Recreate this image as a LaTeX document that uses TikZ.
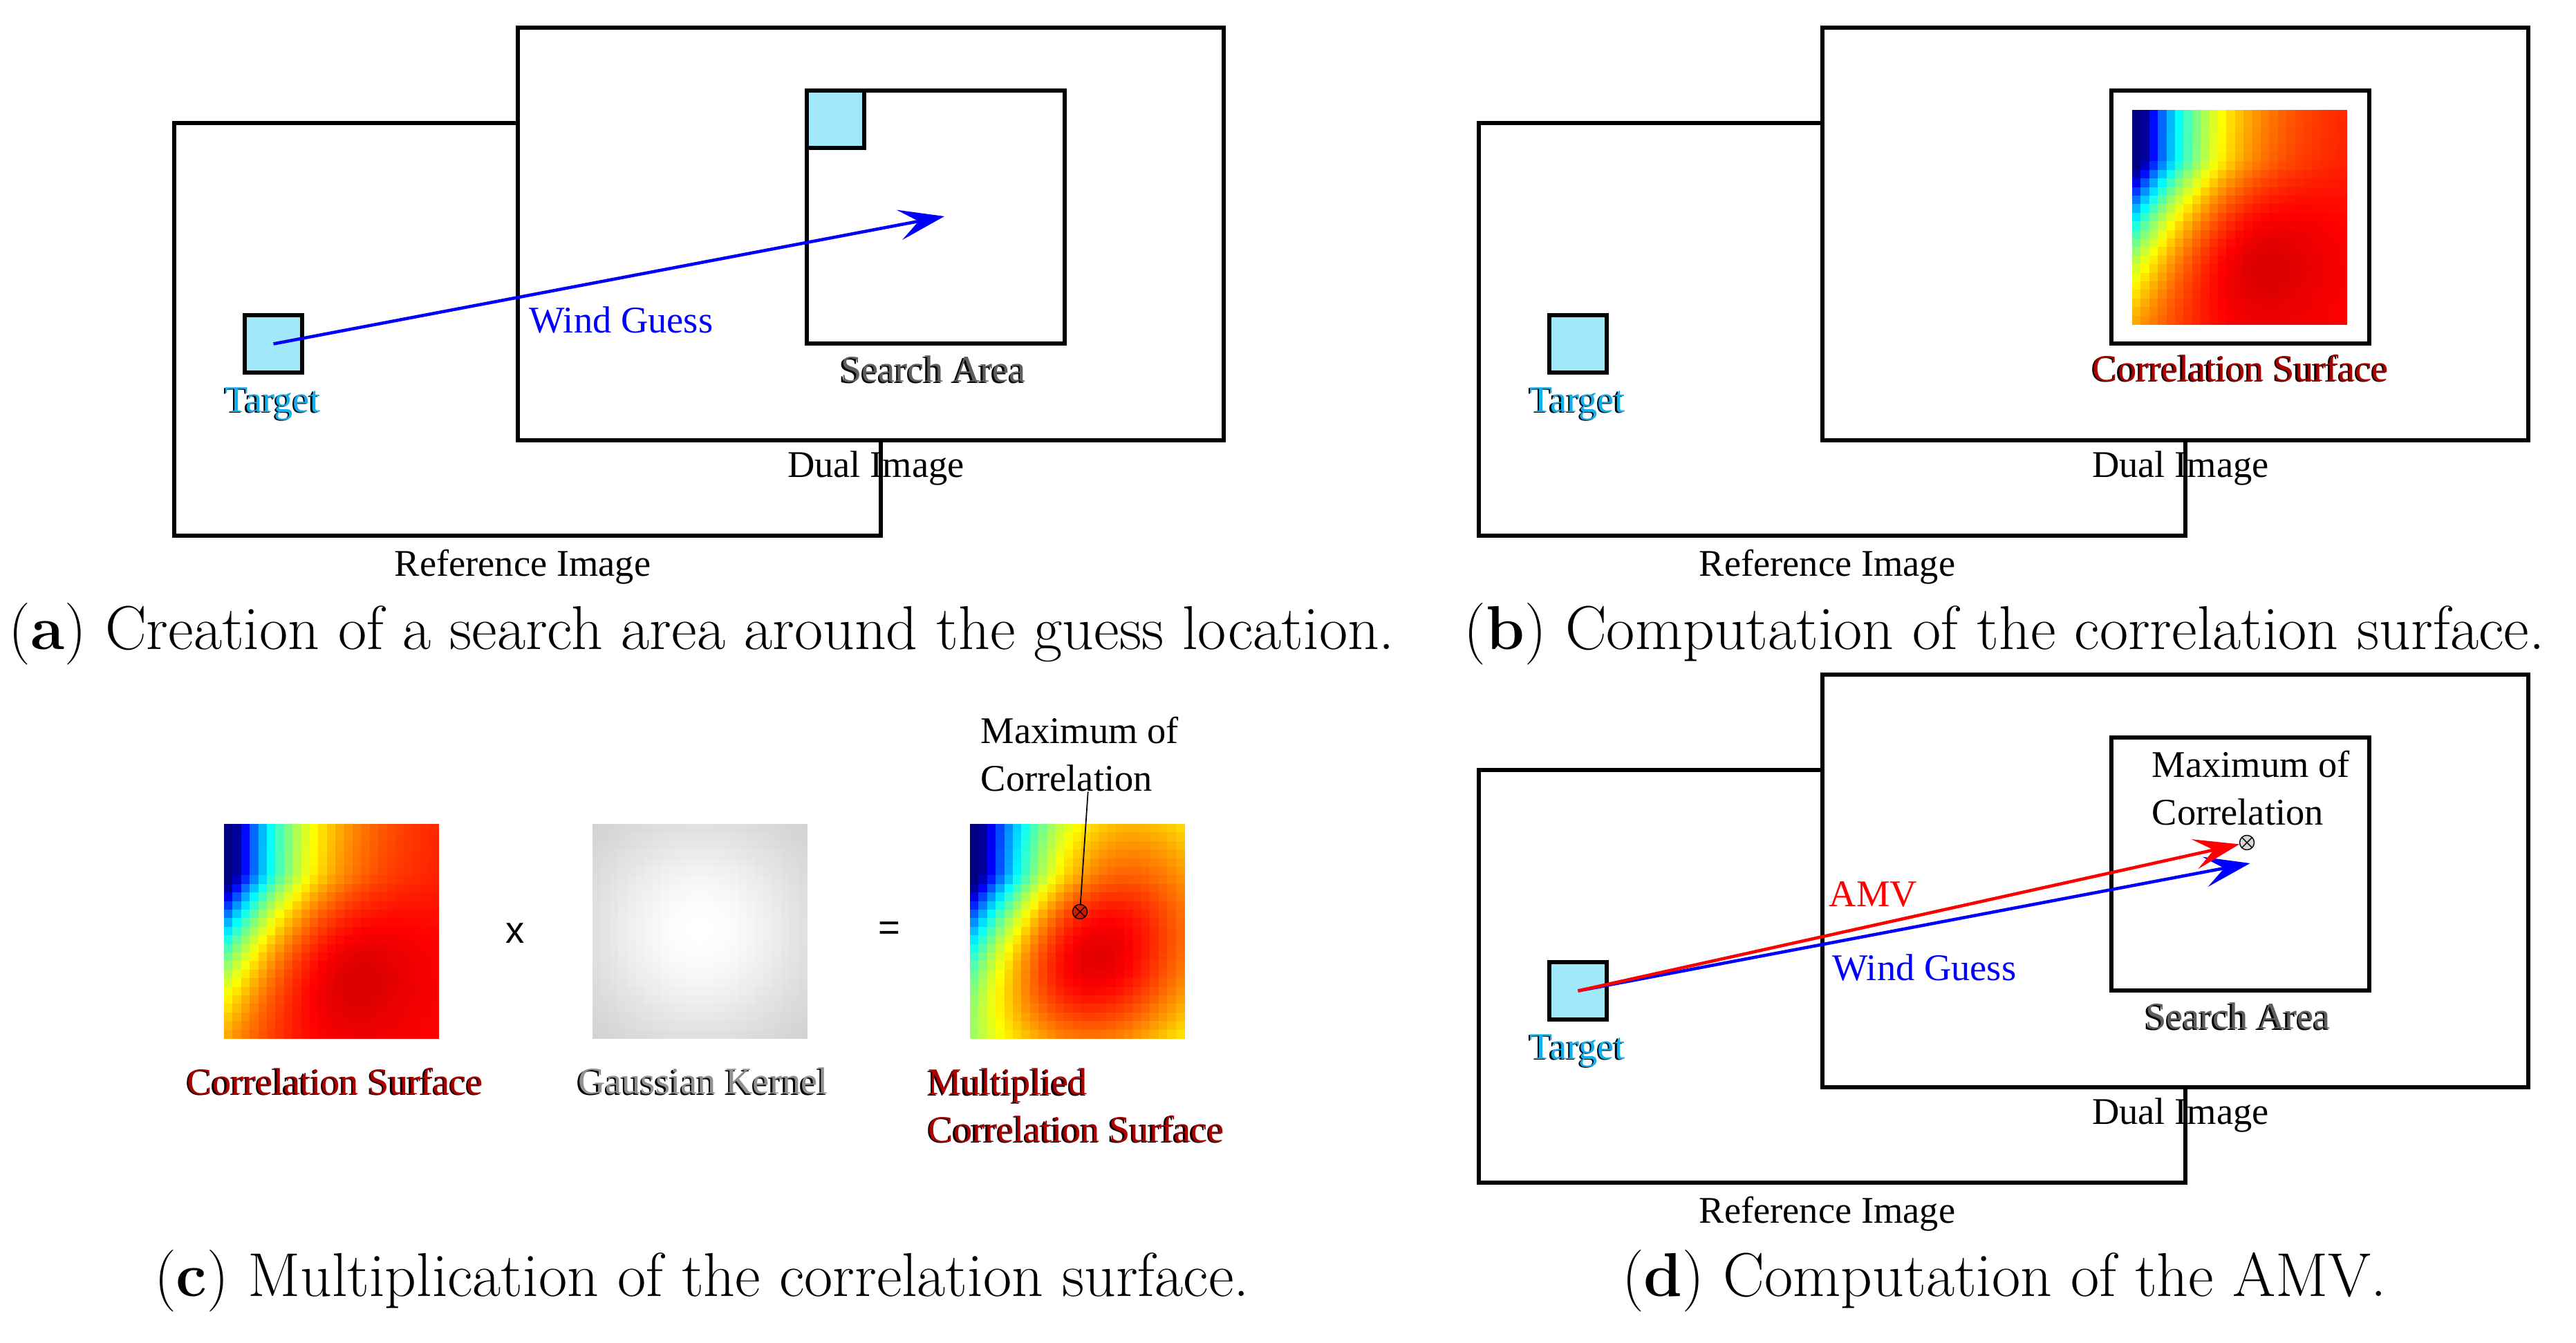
\documentclass[tikz,border=0pt]{standalone}
\usepackage{fontspec}
\newfontfamily\lblfont{Liberation Serif}
\newfontfamily\opfont{Liberation Sans}
\usetikzlibrary{arrows.meta}

\definecolor{tgtfill}{RGB}{160,232,250}
\definecolor{tgttext}{RGB}{20,175,240}
\definecolor{srchgray}{RGB}{95,95,95}
\definecolor{corrred}{RGB}{175,0,0}
\definecolor{gaussgray}{RGB}{145,145,145}

% coloured text with a dark shadow
\newcommand\shd[2]{\rlap{\kern-0.7pt\raisebox{-0.5pt}{\color{black}#2}}{\color{#1}#2}}

% jet colour map, value #1 in [0,1] -> hmcol
\newcommand\jetcol[1]{%
  \pgfmathsetmacro\jr{max(0,min(1,min(4*#1-1.5,4.5-4*#1)))}%
  \pgfmathsetmacro\jg{max(0,min(1,min(4*#1-0.5,3.5-4*#1)))}%
  \pgfmathsetmacro\jb{max(0,min(1,min(4*#1+0.5,2.5-4*#1)))}%
  \definecolor{hmcol}{rgb}{\jr,\jg,\jb}}

% correlation value at (\hx,\hy), y going down -> \hmv
\newcommand\corrval{%
  \pgfmathsetmacro\hmu{\hx+0.7*max(0,\hy-0.24)}%
  \pgfmathsetmacro\hmb{0.95*(1-exp(0-max(0,\hmu-0.05)/0.3))}%
  \pgfmathsetmacro\hmg{exp(0-((\hx-0.5)*(\hx-0.5)+(\hy-0.65)*(\hy-0.65))/0.15)}%
  \pgfmathsetmacro\hmv{min(1,\hmb*(0.92+0.1*\hmg))}}

% 25x25 map, top left corner (#1,#2); #3: 0 correlation, 1 gaussian, 2 product
\newcommand\heatgrid[3]{%
  \foreach \i in {0,...,24}{%
    \foreach \j in {0,...,24}{%
      \pgfmathsetmacro\hx{(\i+0.5)/25}%
      \pgfmathsetmacro\hy{(\j+0.5)/25}%
      \ifcase#3\relax
        \corrval\jetcol{\hmv}%
      \or
        \pgfmathsetmacro\hmk{exp(0-((\hx-0.5)*(\hx-0.5)+(\hy-0.5)*(\hy-0.5))/0.3)}%
        \pgfmathsetmacro\hml{0.78+0.22*\hmk}%
        \definecolor{hmcol}{gray}{\hml}%
      \or
        \corrval
        \pgfmathsetmacro\hmk{exp(0-((\hx-0.5)*(\hx-0.5)+(\hy-0.45)*(\hy-0.45))/1.6)}%
        \pgfmathsetmacro\hmw{min(1,1.03*\hmv*\hmk)}%
        \jetcol{\hmw}%
      \fi
      \fill[hmcol] ({#1+\i*0.124},{#2-\j*0.124}) rectangle ++(0.13,-0.13);
    }}}

% reference and dual image with target and search area
\newcommand\imagepair[1]{%
  \node[imgbox, minimum width=10.22cm, minimum height=5.97cm] (ref#1) at (7.63,14.655) {};
  \node[imgbox, fill=white, minimum width=10.21cm, minimum height=5.97cm] (dual#1) at (12.595,16.035) {};
  \node[imgbox, minimum width=3.73cm, minimum height=3.66cm] (search#1) at (13.535,16.28) {};
  \node[imgbox, fill=tgtfill, minimum size=0.83cm] (target#1) at (3.955,14.445) {};
  \node[lbl] (tgtlbl#1) at (3.945,13.57) {\shd{tgttext}{Target}};
  \node[lbl] (duallbl#1) at (12.67,12.65) {Dual Image};
  \node[lbl] (reflbl#1) at (7.56,11.22) {Reference Image};
}

\tikzset{
  imgbox/.style={draw, rectangle, line width=1.45pt, inner sep=0pt},
  lbl/.style={font=\lblfont\fontsize{15.5}{19.5}\selectfont, inner sep=0pt},
  capt/.style={font=\fontsize{25.5}{30}\selectfont, inner sep=0pt},
  guessarrow/.style={blue, line width=1.3pt, -{Stealth[length=6.6mm,width=4.4mm,inset=2.8mm]}},
  amvarrow/.style={red, line width=1.3pt, -{Stealth[length=6.6mm,width=4.4mm,inset=2.8mm]}},
  maxmark/.style={circle, draw=black, line width=0.4pt, fill=black!45, fill opacity=0.5,
    draw opacity=1, minimum size=0.21cm, inner sep=0pt,
    path picture={\draw[black, line width=0.4pt, draw opacity=1]
      (path picture bounding box.north west) -- (path picture bounding box.south east)
      (path picture bounding box.north east) -- (path picture bounding box.south west);}}
}

\begin{document}
\begin{tikzpicture}
\useasboundingbox (0,0) rectangle (37.26,19.42);

% (a) search area
\imagepair{A}
\node[imgbox, fill=tgtfill, minimum size=0.83cm] (cornerA) at (12.085,17.695) {};
\node[lbl] (srchlblA) at (13.50,14.07) {\shd{srchgray}{Search Area}};
\coordinate (guessA) at (13.66,16.29);
\draw[guessarrow] (targetA.center) -- (guessA);
\node[lbl, anchor=west, blue] (windlblA) at (7.65,14.79) {Wind Guess};
\node[capt] (captA) at (10.15,10.25) {(\textbf{a}) Creation of a search area around the guess location.};

% (b) correlation surface
\begin{scope}[xshift=18.87cm]
\imagepair{B}
\heatgrid{11.97}{17.83}{0}
\node[lbl] (corrlblB) at (13.54,14.09) {\shd{corrred}{Correlation Surface}};
\end{scope}
\node[capt] (captB) at (28.99,10.25) {(\textbf{b}) Computation of the correlation surface.};

% (c) multiplication
\heatgrid{3.24}{7.50}{0}
\heatgrid{8.57}{7.50}{1}
\heatgrid{14.03}{7.50}{2}
\node[lbl, font=\opfont\fontsize{15.5}{19}\selectfont] (timesC) at (7.45,5.92) {x};
\node[lbl, font=\opfont\fontsize{15.5}{19}\selectfont] (equalsC) at (12.86,5.95) {=};
\node[lbl] (corrlblC) at (4.85,3.77) {\shd{corrred}{Correlation Surface}};
\node[lbl] (gausslblC) at (10.17,3.77) {\shd{gaussgray}{Gaussian Kernel}};
\node[lbl, anchor=west, align=left] (multlblC) at (13.42,3.42) {\shd{corrred}{Multiplied}\\\shd{corrred}{Correlation Surface}};
\node[maxmark, fill=corrred] (maxC) at (15.62,6.23) {};
\node[lbl, anchor=west, align=left] (maxlblC) at (14.18,8.51) {Maximum of\\Correlation};
\draw[line width=0.5pt] ([xshift=1.2mm]maxlblC.south) -- (maxC);
\node[capt] (captC) at (10.15,0.89) {(\textbf{c}) Multiplication of the correlation surface.};

% (d) AMV
\begin{scope}[shift={(18.87,-9.36)}]
\imagepair{D}
\node[lbl] (srchlblD) at (13.50,14.07) {\shd{srchgray}{Search Area}};
\node[maxmark, fill=black!30] (maxD) at (13.63,16.59) {};
\node[lbl, anchor=west, align=left] (maxlblD) at (12.25,17.38) {Maximum of\\Correlation};
\coordinate (guessD) at (13.675,16.29);
\draw[guessarrow] (targetD.center) -- (guessD);
\draw[amvarrow] (targetD.center) -- (maxD);
\node[lbl, anchor=west, red] (amvlblD) at (7.58,15.84) {AMV};
\node[lbl, anchor=west, blue] (windlblD) at (7.63,14.78) {Wind Guess};
\end{scope}
\node[capt] (captD) at (28.99,0.89) {(\textbf{d}) Computation of the AMV.};
\end{tikzpicture}
\end{document}
